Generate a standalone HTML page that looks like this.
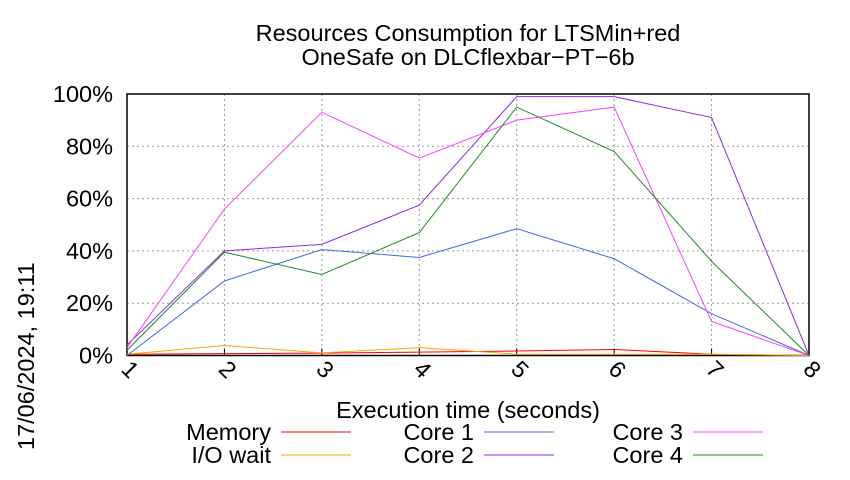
<!DOCTYPE html>
<html><head><meta charset="utf-8"><style>
body{margin:0;background:#fff;font-family:"Liberation Sans",sans-serif;}
svg text{font-family:"Liberation Sans",sans-serif;fill:#000;}
</style></head><body>
<svg id="chart" width="850" height="475">
<text x="468" y="41" font-size="23.5" text-anchor="middle">Resources Consumption for LTSMin+red</text>
<text x="468" y="65" font-size="23.5" text-anchor="middle">OneSafe on DLCflexbar−PT−6b</text>
<text transform="translate(34,450) rotate(-90)" font-size="23.5">17/06/2024, 19:11</text>
<text x="468" y="418" font-size="23.5" text-anchor="middle">Execution time (seconds)</text>
<g id="grid"></g><g id="axes"></g><g id="series"></g><g id="legend"></g>
</svg>
<script>
const xCats=[1,2,3,4,5,6,7,8];
const yTicks=[0,20,40,60,80,100];
const seriesNames=["Memory","I/O wait","Core 1","Core 2","Core 3","Core 4"];
const seriesColors=["#ff0000","#ffa500","#4169e1","#8a2be2","#ff40ff","#228b22"];
const memory=[0.5,0.7,0.9,1.3,1.7,2.3,0.5,0];
const ioWait=[0.5,3.8,1,3,0.5,0.5,0.5,0];
const core1=[0,28.5,40.5,37.5,48.5,37,16,0];
const core2=[4,40,42.5,57.5,99,99,91,0];
const core3=[3,56,93,75.5,90,95,13,0];
const core4=[2,39.5,31,47,95,78,36,0];
const allSeries=[memory,ioWait,core1,core2,core3,core4];
const NS="http://www.w3.org/2000/svg";
const L=127,R=809,T=94,B=355.5;
const xs=v=>L+(v-1)*(R-L)/7;
const ys=v=>B-v*(B-T)/100;
function mk(t,a,p){const e=document.createElementNS(NS,t);for(const k in a)e.setAttribute(k,a[k]);p.appendChild(e);return e;}
const grid=document.getElementById('grid'),axes=document.getElementById('axes'),ser=document.getElementById('series'),leg=document.getElementById('legend');
yTicks.forEach(t=>{
 const g=mk('line',{x1:L,x2:R,y1:ys(t),y2:ys(t),stroke:'#999','stroke-dasharray':'2,3','stroke-width':1},grid);
 
 
 const tx=mk('text',{x:L-14,y:ys(t)+8,'font-size':23.5,'text-anchor':'end'},axes);
 tx.textContent=t+'%';
 
 
});
xCats.forEach(c=>{
 const g=mk('line',{x1:xs(c),x2:xs(c),y1:T,y2:B,stroke:'#999','stroke-dasharray':'2,3','stroke-width':1},grid);
 
 
 const tk=mk('line',{x1:xs(c),x2:xs(c),y1:B,y2:B-7,stroke:'#000'},axes);
 
 
 const tx=mk('text',{x:0,y:0,'font-size':23.5,transform:`translate(${xs(c)-7},${B+15}) rotate(45)`},axes);
 tx.textContent=c;
 
 
});
const box=mk('rect',{x:L,y:T,width:R-L,height:B-T,fill:'none',stroke:'#000','stroke-width':1.5},axes);


allSeries.forEach((d,i)=>{
 const pts=d.map((v,j)=>xs(xCats[j])+','+ys(v)).join(' ');
 const p=mk('polyline',{points:pts,fill:'none',stroke:seriesColors[i],'stroke-width':1},ser);
 
 
});
const legPos=[[271,432],[271,455],[474,432],[474,455],[683,432],[683,455]];
seriesNames.forEach((n,i)=>{
 const [x,y]=legPos[i];
 const t=mk('text',{x:x,y:y+8,'font-size':23.5,'text-anchor':'end'},leg);
 t.textContent=n;
 
 
 const l=mk('line',{x1:x+10,x2:x+80,y1:y,y2:y,stroke:seriesColors[i],'stroke-width':1},leg);
 
 
});
</script>
</body></html>
